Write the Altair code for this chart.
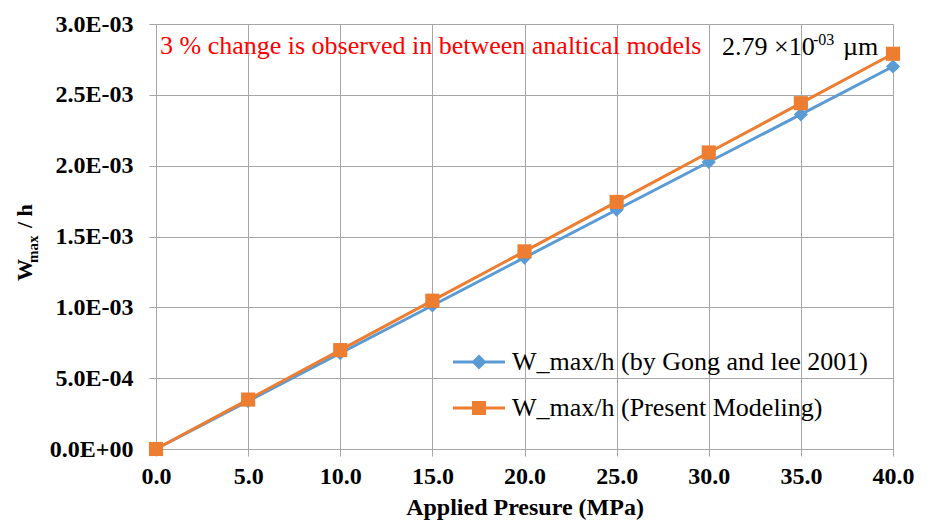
import altair as alt
import pandas as pd

# ---- data ----
pressure = [0, 5, 10, 15, 20, 25, 30, 35, 40]
gong_lee = [0.0, 3.38e-4, 6.76e-4, 1.013e-3, 1.351e-3, 1.689e-3, 2.026e-3, 2.362e-3, 2.70e-3]
present = [0.0, 3.49e-4, 6.98e-4, 1.047e-3, 1.395e-3, 1.744e-3, 2.093e-3, 2.441e-3, 2.79e-3]
series_names = ["W_max/h (by Gong and lee 2001)", "W_max/h (Present Modeling)"]
series_colors = ["#5B9BD5", "#ED7D31"]
x_ticks = [0, 5, 10, 15, 20, 25, 30, 35, 40]
y_ticks = [0.0, 5e-4, 1e-3, 1.5e-3, 2e-3, 2.5e-3, 3e-3]
y_tick_labels = ["0.0E+00", "5.0E-04", "1.0E-03", "1.5E-03", "2.0E-03", "2.5E-03", "3.0E-03"]
note_text = "3 % change is observed in between analtical models"

FONT = "'Liberation Serif', 'Times New Roman', 'DejaVu Serif', serif"

rows = []
for name, vals in zip(series_names, [gong_lee, present]):
    for p, v in zip(pressure, vals):
        rows.append({"pressure": p, "value": v, "series": name})
df = pd.DataFrame(rows)

label_expr = "[" + ",".join("'%s'" % s for s in y_tick_labels) + "][round(datum.value / 0.0005)]"

x_enc = alt.X("pressure:Q",
              scale=alt.Scale(domain=[0, 40], nice=False),
              axis=alt.Axis(values=x_ticks, format=".1f", title="Applied Presure (MPa)",
                            titlePadding=7, labelPadding=8, labelFlush=False))
y_enc = alt.Y("value:Q",
              scale=alt.Scale(domain=[0, 0.003], nice=False),
              axis=alt.Axis(values=y_ticks, labelExpr=label_expr, title=None,
                            labelPadding=16, labelFlush=False))

base = alt.Chart(df)

layers = []
shapes = ["diamond", "square"]
for name, col, shp in zip(series_names, series_colors, shapes):
    sub = base.transform_filter(alt.datum.series == name)
    layers.append(sub.mark_line(strokeWidth=3, color=col).encode(x=x_enc, y=y_enc))
    layers.append(sub.mark_point(filled=True, size=200, opacity=1, color=col, shape=shp)
                  .encode(x=x_enc, y=y_enc))

# legend-only layer (no rows drawn), symbols = line + marker
line_part = "M-1,-0.06 L1,-0.06 L1,0.06 L-1,0.06 Z "
legend_paths = [
    line_part + "M0,-0.29 L0.29,0 L0,0.29 L-0.29,0 Z",
    line_part + "M-0.27,-0.27 L0.27,-0.27 L0.27,0.27 L-0.27,0.27 Z",
]
legend_opts = dict(title=None, orient="none", legendX=297, legendY=312,
                   symbolSize=2704, labelFont=FONT, labelFontSize=26, labelLimit=600,
                   labelColor="black", labelOffset=7, padding=0, symbolOpacity=1,
                   rowPadding=7, symbolStrokeWidth=0)
legend_layer = base.transform_filter("false").mark_point(filled=True, opacity=1).encode(
    x=x_enc, y=y_enc,
    color=alt.Color("series:N", scale=alt.Scale(domain=series_names, range=series_colors),
                    legend=alt.Legend(**legend_opts)),
    shape=alt.Shape("series:N", scale=alt.Scale(domain=series_names, range=legend_paths),
                    legend=alt.Legend(**legend_opts)),
)
layers.append(legend_layer)

one = pd.DataFrame({"t": [0]})


def txt(text, x, y, size, weight="normal", color="black", angle=0):
    kw = dict(text=text, font=FONT, fontSize=size, fontWeight=weight, color=color,
              align="left", baseline="alphabetic")
    if angle:
        kw["angle"] = angle
    return alt.Chart(one).mark_text(**kw).encode(x=alt.value(x), y=alt.value(y))


layers += [
    txt(note_text, 4, 30, 26, color="#FF0000"),
    txt("2.79 \u00d710", 566, 31, 26),
    txt("-03", 657, 21, 16),
    txt("\u00b5m", 687, 31, 26),
    txt("W", -124, 257, 22, weight="bold", angle=270),
    txt("max", -118, 239, 15, weight="bold", angle=270),
    txt("/ h", -124, 204, 22, weight="bold", angle=270),
]

chart = alt.layer(*layers).properties(
    width=737, height=425,
    background="white",
    autosize=alt.AutoSizeParams(type="none"),
    padding={"left": 156, "top": 24, "right": 37, "bottom": 82},
).configure_view(stroke=None).configure_axis(
    grid=True, gridColor="#A6A6A6", gridWidth=1,
    domainColor="#A6A6A6", domainWidth=1,
    tickColor="#A6A6A6", tickSize=7, tickWidth=1,
    labelFont=FONT, labelFontSize=24, labelFontWeight="bold", labelColor="black",
    titleFont=FONT, titleFontSize=24, titleFontWeight="bold", titleColor="black",
)

chart.save("out.html", embed_options={"renderer": "svg", "actions": False})
